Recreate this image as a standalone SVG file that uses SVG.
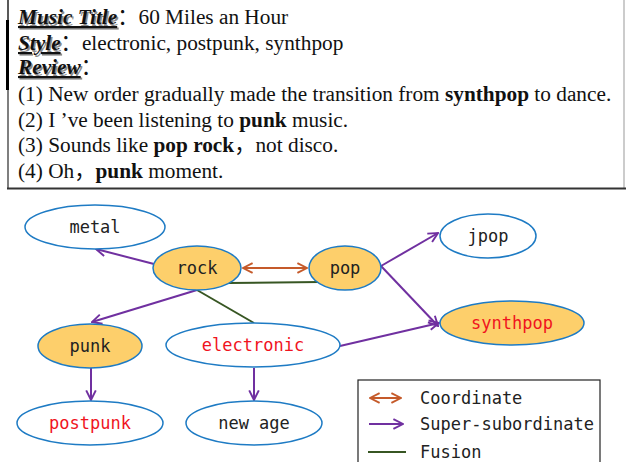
<svg xmlns="http://www.w3.org/2000/svg" width="626" height="462" viewBox="0 0 626 462">
<defs>
<style>
.hd{font-family:"Liberation Serif","Noto Sans CJK SC",serif;font-size:21.3px;fill:#111}
.lbl{font-weight:bold;font-style:italic;text-decoration:underline}
.sh{fill:#8a8a8a}
.b{font-weight:bold}
.nd{stroke:#1E7BC4;stroke-width:1.5}
.w{fill:#fff}
.y{fill:#FDCF6B}
.nt{font-family:"DejaVu Sans Mono","Liberation Mono",monospace;font-size:17px;fill:#222;text-anchor:middle}
.red{fill:#F0141E}
.sup{stroke:#7030A0;stroke-width:2;fill:none;marker-end:url(#ap)}
.co{stroke:#C55A2A;stroke-width:2;fill:none;marker-end:url(#ao);marker-start:url(#ao)}
.fu{stroke:#375623;stroke-width:2;fill:none}
.lg{font-family:"DejaVu Sans Mono","Liberation Mono",monospace;font-size:17px;fill:#222}
</style>
<marker id="ap" viewBox="0 0 10 10" refX="9" refY="5" markerWidth="12" markerHeight="12" markerUnits="userSpaceOnUse" orient="auto">
<path d="M1,1 L9,5 L1,9" fill="none" stroke="#7030A0" stroke-width="1.6"/>
</marker>
<marker id="ao" viewBox="0 0 10 10" refX="9" refY="5" markerWidth="12" markerHeight="12" markerUnits="userSpaceOnUse" orient="auto-start-reverse">
<path d="M1,1 L9,5 L1,9" fill="none" stroke="#C55A2A" stroke-width="1.6"/>
</marker>
</defs>
<rect width="626" height="462" fill="#fff"/>
<g id="textbox">
<line x1="8" y1="0" x2="8" y2="20" stroke="#222" stroke-width="1.5"/>
<line x1="7.5" y1="20" x2="7.5" y2="90" stroke="#000" stroke-width="3"/>
<line x1="8" y1="90" x2="8" y2="189" stroke="#555" stroke-width="1.5"/>
<line x1="624" y1="0" x2="624" y2="189" stroke="#999" stroke-width="1"/>
<line x1="7" y1="188.5" x2="626" y2="188.5" stroke="#333" stroke-width="2"/>
<text class="hd lbl sh" x="19.5" y="25.5">Music Title</text>
<text class="hd" x="18" y="24"><tspan class="lbl">Music Title</tspan>：60 Miles an Hour</text>
<text class="hd lbl sh" x="19.5" y="51.5">Style</text>
<text class="hd" x="18" y="50"><tspan class="lbl">Style</tspan>：electronic, postpunk, synthpop</text>
<text class="hd lbl sh" x="19.5" y="75.5">Review</text>
<text class="hd" x="18" y="74"><tspan class="lbl">Review</tspan>：</text>
<text class="hd" x="18" y="101">(1) New order gradually made the transition from <tspan class="b">synthpop</tspan> to dance.</text>
<text class="hd" x="18" y="127">(2) I ’ve been listening to <tspan class="b">punk</tspan> music.</text>
<text class="hd" x="18" y="152">(3) Sounds like <tspan class="b">pop rock</tspan>，not disco.</text>
<text class="hd" x="18" y="178">(4) Oh，<tspan class="b">punk</tspan> moment.</text>
</g>
<g id="connectors">
<line class="sup" x1="154" y1="264" x2="96" y2="249"/>
<line class="co" x1="243" y1="268" x2="307" y2="268"/>
<line class="fu" x1="229" y1="283" x2="320" y2="282"/>
<line class="sup" x1="197" y1="290" x2="92" y2="322"/>
<line class="fu" x1="197" y1="290" x2="254" y2="323"/>
<line class="sup" x1="381" y1="266" x2="438" y2="233"/>
<line class="sup" x1="381" y1="266" x2="438" y2="326"/>
<line class="sup" x1="340" y1="346" x2="439" y2="323"/>
<line class="sup" x1="91" y1="368" x2="91" y2="400"/>
<line class="sup" x1="254" y1="368" x2="254" y2="400"/>
</g>
<g id="metal"><ellipse class="nd w" cx="95" cy="227" rx="70" ry="22"/><text class="nt" x="95" y="233">metal</text></g>
<g id="rock"><ellipse class="nd y" cx="197" cy="268" rx="44" ry="22"/><text class="nt" x="197" y="274">rock</text></g>
<g id="pop"><ellipse class="nd y" cx="345" cy="268" rx="36" ry="22"/><text class="nt" x="345" y="274">pop</text></g>
<g id="jpop"><ellipse class="nd w" cx="488" cy="236" rx="48" ry="22"/><text class="nt" x="488" y="242">jpop</text></g>
<g id="synthpop"><ellipse class="nd y" cx="512" cy="323" rx="72" ry="22"/><text class="nt red" x="512" y="329">synthpop</text></g>
<g id="punk"><ellipse class="nd y" cx="90" cy="346" rx="52" ry="22"/><text class="nt" x="90" y="352">punk</text></g>
<g id="electronic"><ellipse class="nd w" cx="253" cy="345" rx="87" ry="22"/><text class="nt red" x="253" y="351">electronic</text></g>
<g id="postpunk"><ellipse class="nd w" cx="90" cy="423" rx="73" ry="22"/><text class="nt red" x="90" y="429">postpunk</text></g>
<g id="newage"><ellipse class="nd w" cx="254" cy="423" rx="68" ry="22"/><text class="nt" x="254" y="429">new age</text></g>
<g id="legend">
<rect x="358" y="380" width="242" height="90" fill="#fff" stroke="#222" stroke-width="1.2"/>
<line class="co" x1="370" y1="398" x2="401" y2="398"/>
<text class="lg" x="420" y="404">Coordinate</text>
<line class="sup" x1="369" y1="424" x2="403" y2="424"/>
<text class="lg" x="420" y="430">Super-subordinate</text>
<line class="fu" x1="368" y1="452" x2="406" y2="452"/>
<text class="lg" x="420" y="458">Fusion</text>
</g>
</svg>
